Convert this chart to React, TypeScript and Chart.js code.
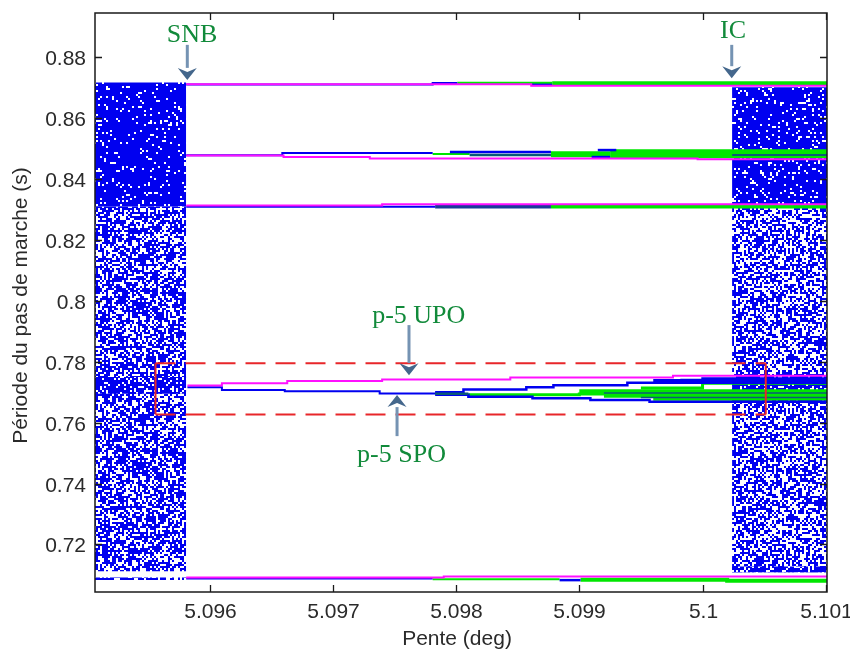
import { useEffect, useRef } from 'react';
import { Chart, registerables } from 'chart.js';

Chart.register(...registerables);

// ---------- axes ----------
const X_MIN = 5.09507;
const X_MAX = 5.10101;
const Y_MIN = 0.7044;
const Y_MAX = 0.8945;
const X_TICKS = [5.096, 5.097, 5.098, 5.099, 5.1, 5.101];
const X_TICK_LABELS = ['5.096', '5.097', '5.098', '5.099', '5.1', '5.101'];
const Y_TICKS = [0.72, 0.74, 0.76, 0.78, 0.8, 0.82, 0.84, 0.86, 0.88];
const Y_TICK_LABELS = ['0.72', '0.74', '0.76', '0.78', '0.8', '0.82', '0.84', '0.86', '0.88'];
const X_TITLE = 'Pente (deg)';
const Y_TITLE = 'Période du pas de marche (s)';

// ---------- chaotic regions (x range, y ranges) ----------
const CHAOS_LEFT_X = [5.09507, 5.09581];
const CHAOS_LEFT_DENSE = [0.831, 0.8717];
const CHAOS_LEFT_SPARSE = [0.7112, 0.831];
const CHAOS_LEFT_BAND = [0.7695, 0.775];
const CHAOS_LEFT_FLOOR = [0.7083, 0.7092];
const CHAOS_RIGHT_X = [5.10024, 5.10101];
const CHAOS_RIGHT_DENSE = [0.8313, 0.8701];
const CHAOS_RIGHT_SPARSE = [0.7109, 0.8313];
const CHAOS_RIGHT_BAND = [0.7665, 0.776];
const CHAOS_RIGHT_FLOOR = [0.7109, 0.7128];

// ---------- p-5 unstable orbit (magenta) ----------
const UPO_1 = [[5.09581, 0.8711], [5.09861, 0.8706], [5.10101, 0.8706]];
const UPO_2 = [[5.09581, 0.8477], [5.0966, 0.8472], [5.0973, 0.8467], [5.09996, 0.8465], [5.10101, 0.8465]];
const UPO_3 = [[5.09581, 0.8313], [5.0974, 0.8317], [5.10101, 0.8317]];
const UPO_4 = [[5.09582, 0.7722], [5.0961, 0.7729], [5.09663, 0.7737], [5.0974, 0.7742], [5.09844, 0.7748], [5.09976, 0.7754], [5.10101, 0.7754]];
const UPO_5 = [[5.09581, 0.7092], [5.0979, 0.7095], [5.10101, 0.7096]];

// ---------- p-5 stable orbit and descendants (blue) ----------
const SPO_1 = [[5.09581, 0.871], [5.09781, 0.8715], [5.09801, 0.8715]];
const SPO_1B = [[5.09861, 0.8709], [5.09878, 0.8709]];
const SPO_2 = [[5.09581, 0.8478], [5.09659, 0.8485], [5.09781, 0.8485]];
const SPO_2B = [[5.09795, 0.8489], [5.09877, 0.8489]];
const SPO_2C = [[5.09915, 0.8495], [5.0993, 0.8495]];
const SPO_2D = [[5.0991, 0.8472], [5.09925, 0.8472]];
const SPO_3 = [[5.09581, 0.8309], [5.09783, 0.8309]];
const SPO_4 = [[5.09582, 0.7716], [5.0961, 0.7707], [5.09661, 0.7703], [5.09738, 0.7696], [5.09783, 0.7695]];
const SPO_4U = [[5.09783, 0.77], [5.09806, 0.7709], [5.09857, 0.7716], [5.09879, 0.7723], [5.09939, 0.7731], [5.09983, 0.774], [5.1, 0.7745], [5.10101, 0.7745]];
const SPO_4L = [[5.09783, 0.7692], [5.0981, 0.7685], [5.09862, 0.768], [5.09909, 0.7674], [5.09957, 0.7669], [5.10101, 0.7669]];
const SPO_4BAND = [[5.0996, 0.7735], [5.10101, 0.7735]];
const SPO_5 = [[5.09581, 0.7088], [5.09781, 0.7088]];
const SPO_5B = [[5.09884, 0.7083], [5.09901, 0.7083]];

// ---------- higher-period orbits (green) ----------
const GREEN_1A = [[5.09801, 0.8715], [5.09878, 0.8715]];
const GREEN_1B = [[5.09878, 0.8714], [5.10101, 0.8714]];
const GREEN_2A = [[5.09781, 0.8482], [5.09811, 0.8482]];
const GREEN_2B = [[5.09877, 0.8481], [5.09925, 0.8481]];
const GREEN_2C = [[5.09925, 0.8483], [5.10101, 0.8483]];
const GREEN_3 = [[5.09877, 0.831], [5.10101, 0.831]];
const GREEN_4A = [[5.0981, 0.7692], [5.0990, 0.7694], [5.10101, 0.7694]];
const GREEN_4B = [[5.099, 0.7703], [5.10101, 0.7703]];
const GREEN_4C = [[5.0992, 0.7688], [5.10101, 0.7688]];
const GREEN_4D = [[5.0995, 0.7714], [5.1, 0.7729], [5.10101, 0.7729]];
const GREEN_4E = [[5.0996, 0.7677], [5.10101, 0.7677]];
const GREEN_5A = [[5.09781, 0.7086], [5.09884, 0.7086]];
const GREEN_5B = [[5.09901, 0.7084], [5.1002, 0.7081], [5.10101, 0.7081]];

// ---------- mixed (teal / dark) ----------
const TEAL_2 = [[5.09811, 0.8479], [5.09877, 0.8479]];
const TEAL_2B = [[5.10024, 0.8479], [5.10101, 0.8479]];
const DARK_3 = [[5.09783, 0.831], [5.09877, 0.831]];
const TEAL_4 = [[5.09783, 0.7695], [5.0981, 0.7695]];
const TEAL_4B = [[5.0992, 0.7697], [5.10101, 0.7697]];
const TEAL_4C = [[5.0995, 0.7683], [5.10101, 0.7683]];

// ---------- red box around p-5 region ----------
const BOX_X = [5.095561, 5.100513];
const BOX_Y = [0.76271, 0.77947];

// ---------- annotations ----------
const NOTE_LABELS = ['SNB', 'IC', 'p-5 UPO', 'p-5 SPO'];
const NOTE_TEXT_X = [5.095857, 5.100247, 5.097697, 5.097557];
const NOTE_TEXT_Y = [0.88513, 0.88624, 0.79261, 0.74714];
const NOTE_ARROW_X = [5.095819, 5.100237, 5.097618, 5.097521];
const NOTE_ARROW_FROM = [0.88404, 0.88404, 0.79203, 0.75558];
const NOTE_ARROW_TO = [0.87254, 0.8731, 0.7756, 0.76905];

const BLUE = '#0000f0';
const MAGENTA = '#ff10ff';
const GREEN = '#00e600';
const TEAL = '#0b5a78';
const DARK = '#1a3a9a';
const RED = '#e8262a';
const SANS = '"Liberation Sans", Arial, sans-serif';
const SERIF = '"Liberation Serif", "Times New Roman", serif';

function texHash(i: number, j: number, s: number): number {
  let h = (Math.imul(i, 374761393) + Math.imul(j, 668265263) + Math.imul(s, 1442695041)) | 0;
  h = Math.imul(h ^ (h >>> 13), 1274126177);
  h ^= h >>> 16;
  return (h >>> 0) / 4294967296;
}

function makePattern(kind: string, seed: number, p: number): CanvasPattern | string {
  const c = document.createElement('canvas');
  c.width = 160;
  c.height = 160;
  const g = c.getContext('2d');
  if (!g) return BLUE;
  const cell = 2;
  const n = c.width / cell;
  if (kind === 'dense') {
    g.fillStyle = BLUE;
    g.fillRect(0, 0, c.width, c.height);
    g.fillStyle = '#ffffff';
    for (let i = 0; i < n; i++)
      for (let j = 0; j < n; j++)
        if (texHash(i, j, seed) < p) g.fillRect(i * cell, j * cell, cell, cell);
  } else {
    g.fillStyle = '#ffffff';
    g.fillRect(0, 0, c.width, c.height);
    g.fillStyle = BLUE;
    for (let i = 0; i < n; i++)
      for (let j = 0; j < n; j++)
        if (texHash(i, j, seed) < p) g.fillRect(i * cell, j * cell, cell, cell);
  }
  const pat = g.createPattern(c, 'repeat');
  return pat || BLUE;
}

function toXY(pts: number[][]) {
  return pts.map(([x, y]) => ({ x, y }));
}

function series(pts: number[][], color: string, width: number, order: number, dash: number[] = []) {
  return {
    data: toXY(pts),
    borderColor: color,
    borderWidth: width,
    borderDash: dash,
    pointRadius: 0,
    stepped: true,
    fill: false,
    order,
  };
}

function block(xr: number[], yr: number[], bg: CanvasPattern | string, order: number) {
  return {
    data: [{ x: xr[0], y: yr[1] }, { x: xr[1], y: yr[1] }],
    borderColor: 'rgba(0,0,0,0)',
    borderWidth: 0.01,
    pointRadius: 0,
    fill: { value: yr[0] },
    backgroundColor: bg,
    order,
  };
}

const framePlugin = {
  id: 'framePlugin',
  afterDatasetsDraw(chart: any) {
    const { ctx, scales } = chart;
    const xs = scales.x;
    const ys = scales.y;
    ctx.save();
    for (let i = 0; i < NOTE_LABELS.length; i++) {
      const ax = xs.getPixelForValue(NOTE_ARROW_X[i]);
      const a0 = ys.getPixelForValue(NOTE_ARROW_FROM[i]);
      const a1 = ys.getPixelForValue(NOTE_ARROW_TO[i]);
      const dir = a1 > a0 ? 1 : -1;
      const headLen = 12;
      const headHalf = 9.5;
      ctx.strokeStyle = '#7593b3';
      ctx.lineWidth = 3;
      ctx.beginPath();
      ctx.moveTo(ax, a0);
      ctx.lineTo(ax, a1 - dir * headLen);
      ctx.stroke();
      ctx.fillStyle = '#44678c';
      ctx.beginPath();
      ctx.moveTo(ax - headHalf, a1 - dir * headLen);
      ctx.lineTo(ax, a1 - dir * (headLen - 4));
      ctx.lineTo(ax + headHalf, a1 - dir * headLen);
      ctx.lineTo(ax, a1);
      ctx.closePath();
      ctx.fill();
      ctx.fillStyle = '#118a3a';
      ctx.font = `26px ${SERIF}`;
      ctx.textAlign = 'center';
      ctx.textBaseline = 'alphabetic';
      ctx.fillText(NOTE_LABELS[i], xs.getPixelForValue(NOTE_TEXT_X[i]), ys.getPixelForValue(NOTE_TEXT_Y[i]));
    }
    ctx.restore();
  },
  afterDraw(chart: any) {
    const { ctx, chartArea: a, scales } = chart;
    const xs = scales.x;
    const ys = scales.y;
    ctx.save();
    ctx.strokeStyle = '#1a1a1a';
    ctx.lineWidth = 1.5;
    ctx.strokeRect(a.left, a.top, a.right - a.left, a.bottom - a.top);
    ctx.lineWidth = 1.3;
    ctx.fillStyle = '#2a2a2a';
    ctx.font = `21px ${SANS}`;
    ctx.textAlign = 'center';
    ctx.textBaseline = 'alphabetic';
    X_TICKS.forEach((v, i) => {
      const px = Math.round(xs.getPixelForValue(v)) + 0.5;
      ctx.beginPath();
      ctx.moveTo(px, a.bottom);
      ctx.lineTo(px, a.bottom - 7);
      ctx.moveTo(px, a.top);
      ctx.lineTo(px, a.top + 7);
      ctx.stroke();
      ctx.fillText(X_TICK_LABELS[i], px, a.bottom + 26);
    });
    ctx.textAlign = 'right';
    Y_TICKS.forEach((v, i) => {
      const py = Math.round(ys.getPixelForValue(v)) + 0.5;
      ctx.beginPath();
      ctx.moveTo(a.left, py);
      ctx.lineTo(a.left + 7, py);
      ctx.moveTo(a.right, py);
      ctx.lineTo(a.right - 7, py);
      ctx.stroke();
      ctx.fillText(Y_TICK_LABELS[i], a.left - 9, py + 7.5);
    });
    ctx.textAlign = 'center';
    ctx.fillText(X_TITLE, (a.left + a.right) / 2 - 4, a.bottom + 53);
    ctx.translate(27, (a.top + a.bottom) / 2 + 3);
    ctx.rotate(-Math.PI / 2);
    ctx.fillText(Y_TITLE, 0, 0);
    ctx.restore();
  },
};

export default function App() {
  const ref = useRef<HTMLCanvasElement | null>(null);
  useEffect(() => {
    if (!ref.current) return;
    const dense = makePattern('dense', 11, 0.09);
    const dense2 = makePattern('dense', 23, 0.12);
    const sparseL = makePattern('sparse', 37, 0.62);
    const sparseR = makePattern('sparse', 41, 0.55);
    const medium = makePattern('sparse', 53, 0.8);

    const datasets: any[] = [
      block(CHAOS_LEFT_X, CHAOS_LEFT_SPARSE, sparseL, 100),
      block(CHAOS_LEFT_X, CHAOS_LEFT_DENSE, dense, 99),
      block(CHAOS_LEFT_X, CHAOS_LEFT_BAND, medium, 98),
      block(CHAOS_LEFT_X, CHAOS_LEFT_FLOOR, medium, 98),
      block(CHAOS_RIGHT_X, CHAOS_RIGHT_SPARSE, sparseR, 100),
      block(CHAOS_RIGHT_X, CHAOS_RIGHT_DENSE, dense2, 99),
      block(CHAOS_RIGHT_X, CHAOS_RIGHT_BAND, medium, 98),
      block(CHAOS_RIGHT_X, CHAOS_RIGHT_FLOOR, medium, 98),

      series(GREEN_1A, GREEN, 2.5, 30),
      series(GREEN_1B, GREEN, 4, 30),
      series(GREEN_2A, GREEN, 2, 30),
      series(GREEN_2B, GREEN, 6, 30),
      series(GREEN_2C, GREEN, 9, 30),
      series(GREEN_3, GREEN, 4, 30),
      series(GREEN_4A, GREEN, 3, 30),
      series(GREEN_4B, GREEN, 4, 30),
      series(GREEN_4C, GREEN, 4, 30),
      series(GREEN_4D, GREEN, 3, 30),
      series(GREEN_4E, GREEN, 3, 30),
      series(GREEN_5A, GREEN, 2, 30),
      series(GREEN_5B, GREEN, 4, 30),

      series(SPO_1, BLUE, 2, 20),
      series(SPO_1B, BLUE, 2.5, 20),
      series(SPO_2, BLUE, 2, 20),
      series(SPO_2B, BLUE, 2.5, 20),
      series(SPO_2C, BLUE, 2.5, 20),
      series(SPO_2D, BLUE, 2.5, 20),
      series(SPO_3, BLUE, 2, 20),
      series(SPO_4, BLUE, 2, 20),
      series(SPO_4U, BLUE, 2.5, 20),
      series(SPO_4L, BLUE, 2.5, 20),
      series(SPO_4BAND, BLUE, 5, 20),
      series(SPO_5, BLUE, 2, 20),
      series(SPO_5B, BLUE, 2.5, 20),

      series(TEAL_2, TEAL, 2.5, 15),
      series(TEAL_2B, TEAL, 2, 15),
      series(DARK_3, DARK, 4, 15),
      series(TEAL_4, TEAL, 2.5, 15),
      series(TEAL_4B, TEAL, 1.5, 15),
      series(TEAL_4C, TEAL, 1.5, 15),

      series(UPO_1, MAGENTA, 2, 5),
      series(UPO_2, MAGENTA, 2, 5),
      series(UPO_3, MAGENTA, 2, 5),
      series(UPO_4, MAGENTA, 2, 5),
      series(UPO_5, MAGENTA, 2, 5),

      series([[BOX_X[0], BOX_Y[1]], [BOX_X[1], BOX_Y[1]]], RED, 2, 1, [20, 10]),
      series([[BOX_X[0], BOX_Y[0]], [BOX_X[1], BOX_Y[0]]], RED, 2, 1, [20, 10]),
      { ...series([[BOX_X[0], BOX_Y[0]], [BOX_X[0], BOX_Y[1]]], RED, 2, 1), stepped: false },
      { ...series([[BOX_X[1], BOX_Y[0]], [BOX_X[1], BOX_Y[1]]], RED, 2, 1), stepped: false },
    ];

    const chart = new Chart(ref.current, {
      type: 'line',
      data: { datasets },
      options: {
        animation: false,
        responsive: false,
        devicePixelRatio: 1,
        events: [],
        layout: { padding: { left: 95, top: 13, right: 23, bottom: 60 } },
        plugins: { legend: { display: false }, tooltip: { enabled: false } },
        scales: {
          x: { type: 'linear', min: X_MIN, max: X_MAX, display: false },
          y: { type: 'linear', min: Y_MIN, max: Y_MAX, display: false },
        },
      },
      plugins: [framePlugin],
    } as any);
    return () => chart.destroy();
  }, []);

  return (
    <div style={{ position: 'fixed', left: 0, top: 0, width: 850, height: 652, background: '#fff' }}>
      <canvas ref={ref} width={850} height={652} style={{ display: 'block' }} />
    </div>
  );
}
